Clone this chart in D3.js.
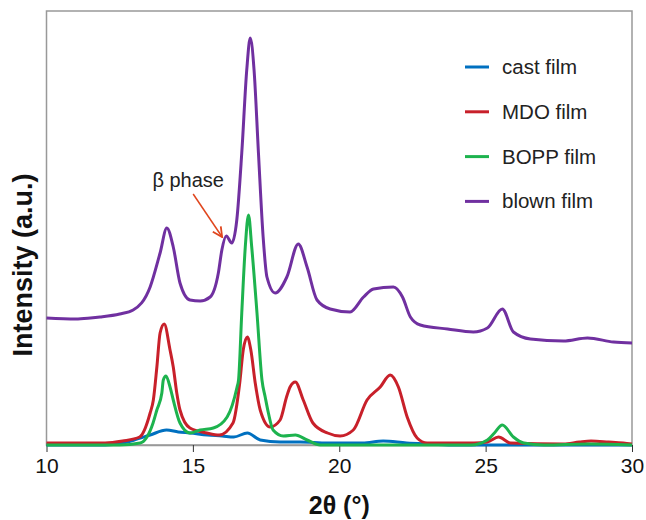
<!DOCTYPE html>
<html>
<head>
<meta charset="utf-8">
<script src="https://cdn.jsdelivr.net/npm/d3@7"></script>
<style>
  body { margin: 0; background: #fff; }
  text { font-family: "Liberation Sans", Arial, sans-serif; }
</style>
</head>
<body>
<div id="container"></div>
<script>
// data (intensity in arbitrary units)
var seriesNames = ["cast film", "MDO film", "BOPP film", "blown film"];
var seriesColors = ["#0070C0", "#C8202A", "#1DB34E", "#7030A0"];

var castX = [10, 12, 12.6, 13, 13.54, 14.1, 14.5, 14.9, 15.5, 16, 16.4, 16.86, 17.3, 17.98, 18.67, 19.6, 20.8, 21.5, 22.3, 23.1, 24, 30];
var castY = [0, 0, 2, 5, 10, 15, 13, 12, 10, 9, 8, 12, 5, 3, 3, 2, 2, 4, 2, 1, 0, 0];

var mdoX = [10, 11, 12, 12.6, 13.18, 13.54, 13.65, 13.77, 13.88, 14.02, 14.22, 14.33, 14.45, 14.56, 14.9, 15.48, 15.9, 16.37, 16.6, 16.72, 16.86, 16.98, 17.13, 17.3, 17.64, 17.98, 18.2, 18.32, 18.5, 18.77, 19.1, 19.6, 20.03, 20.48, 20.95, 21.4, 21.74, 22.02, 22.32, 22.66, 23, 24.6, 25.06, 25.44, 25.85, 27.66, 28.2, 28.6, 29.2, 29.7, 30];
var mdoY = [2, 2, 2, 4, 8, 32, 45, 78, 112, 121, 95, 78, 52, 35, 17, 12, 10, 22, 62, 95, 108, 95, 62, 35, 18, 25, 48, 58, 63, 45, 22, 12, 9, 15, 45, 58, 70, 58, 28, 7, 2, 2, 3, 8, 2, 1, 3, 4, 3, 2, 1];

var boppX = [10, 12.5, 13.2, 13.64, 13.77, 13.94, 13.99, 14.08, 14.22, 14.33, 14.56, 14.9, 15.25, 15.7, 16.17, 16.51, 16.56, 16.67, 16.79, 16.9, 17.01, 17.19, 17.36, 17.47, 17.58, 17.74, 18.09, 18.5, 18.9, 19.35, 24.5, 25.06, 25.3, 25.57, 25.95, 26.3, 27, 28.5, 30];
var boppY = [0, 0, 2, 22, 35, 52, 65, 69, 58, 45, 22, 12, 15, 17, 28, 58, 65, 132, 198, 230, 198, 132, 65, 48, 32, 15, 9, 10, 5, 0, 0, 5, 12, 20, 8, 2, 0, 1, 0];

var blownX = [10, 11, 11.5, 11.83, 12.5, 12.96, 13.54, 13.88, 14.11, 14.33, 14.56, 14.9, 15.25, 15.59, 15.87, 15.99, 16.14, 16.33, 16.5, 16.67, 16.84, 16.96, 17.09, 17.24, 17.4, 17.53, 17.81, 18.21, 18.6, 18.9, 19.24, 19.69, 20.37, 20.83, 21.17, 21.85, 22.16, 22.43, 22.77, 23.7, 24.58, 25.06, 25.57, 25.95, 26.53, 27.66, 28.48, 29.37, 30];
var blownY = [127, 126, 127, 128, 131, 135, 158, 192, 217, 198, 162, 145, 144, 148, 172, 195, 209, 202, 225, 292, 375, 407, 375, 292, 208, 168, 152, 168, 201, 178, 145, 136, 133, 148, 156, 158, 148, 128, 120, 116, 113, 117, 136, 113, 106, 104, 107, 103, 102];

var xTicks = [10, 15, 20, 25, 30];

var W = 646, H = 520;
var margin = {left: 46.5, right: 14, top: 11, bottom: 75};

var svg = d3.select("#container").append("svg")
  .attr("width", W)
  .attr("height", H);

var x = d3.scaleLinear().domain([10, 30]).range([margin.left, W - margin.right]);
var y = d3.scaleLinear().domain([0, 434]).range([H - margin.bottom, margin.top]);

// plot frame
svg.append("rect")
  .attr("x", x(10))
  .attr("y", y(434))
  .attr("width", x(30) - x(10))
  .attr("height", y(0) - y(434))
  .attr("fill", "none")
  .attr("stroke", "#999")
  .attr("stroke-width", 1.5);

// x axis
var xAxis = svg.append("g")
  .attr("transform", "translate(0," + y(0) + ")")
  .call(d3.axisBottom(x).tickValues(xTicks).tickSize(7).tickSizeOuter(0).tickPadding(6));
xAxis.select(".domain").attr("stroke", "#999").attr("stroke-width", 1.5);
xAxis.selectAll(".tick line").attr("stroke", "#333");
xAxis.selectAll(".tick text")
  .attr("fill", "#111")
  .style("font-size", "21px")
  .style("font-family", "'Liberation Sans', Arial, sans-serif");

// series
var series = [
  {xs: castX, ys: castY},
  {xs: mdoX, ys: mdoY},
  {xs: boppX, ys: boppY},
  {xs: blownX, ys: blownY}
];

var line = d3.line()
  .x(function(d) { return x(d[0]); })
  .y(function(d) { return y(d[1]); })
  .curve(d3.curveMonotoneX);

series.forEach(function(s, i) {
  svg.append("path")
    .datum(d3.zip(s.xs, s.ys))
    .attr("d", line)
    .attr("fill", "none")
    .attr("stroke", seriesColors[i])
    .attr("stroke-width", 3)
    .attr("stroke-linejoin", "round");
});

// legend
var legend = svg.append("g");
seriesNames.forEach(function(name, i) {
  var ly = 67 + i * 44.8;
  legend.append("line")
    .attr("x1", 465).attr("x2", 489)
    .attr("y1", ly).attr("y2", ly)
    .attr("stroke", seriesColors[i])
    .attr("stroke-width", 3);
  legend.append("text")
    .attr("x", 502)
    .attr("y", ly + 7)
    .attr("fill", "#222")
    .style("font-size", "20.5px")
    .text(name);
});

// beta phase annotation
svg.append("defs").append("marker")
  .attr("id", "arrow")
  .attr("viewBox", "0 0 10 10")
  .attr("refX", 9).attr("refY", 5)
  .attr("markerWidth", 8).attr("markerHeight", 8)
  .attr("orient", "auto")
  .append("path")
  .attr("d", "M1,1 L9,5 L1,9")
  .attr("fill", "none")
  .attr("stroke", "#E0461E")
  .attr("stroke-width", 1.5);

svg.append("line")
  .attr("x1", x(15.01)).attr("y1", y(251))
  .attr("x2", x(16.0)).attr("y2", y(208))
  .attr("stroke", "#E0461E")
  .attr("stroke-width", 1.5)
  .attr("marker-end", "url(#arrow)");

svg.append("text")
  .attr("x", x(14.84))
  .attr("y", y(258))
  .attr("text-anchor", "middle")
  .attr("fill", "#222")
  .style("font-size", "20px")
  .text("β phase");

// axis titles
svg.append("text")
  .attr("x", (x(10) + x(30)) / 2)
  .attr("y", 514)
  .attr("text-anchor", "middle")
  .attr("fill", "#111")
  .style("font-size", "25px")
  .style("font-weight", "bold")
  .text("2θ (°)");

svg.append("text")
  .attr("transform", "translate(32,265) rotate(-90)")
  .attr("text-anchor", "middle")
  .attr("fill", "#111")
  .style("font-size", "27px")
  .style("font-weight", "bold")
  .text("Intensity (a.u.)");
</script>
</body>
</html>
